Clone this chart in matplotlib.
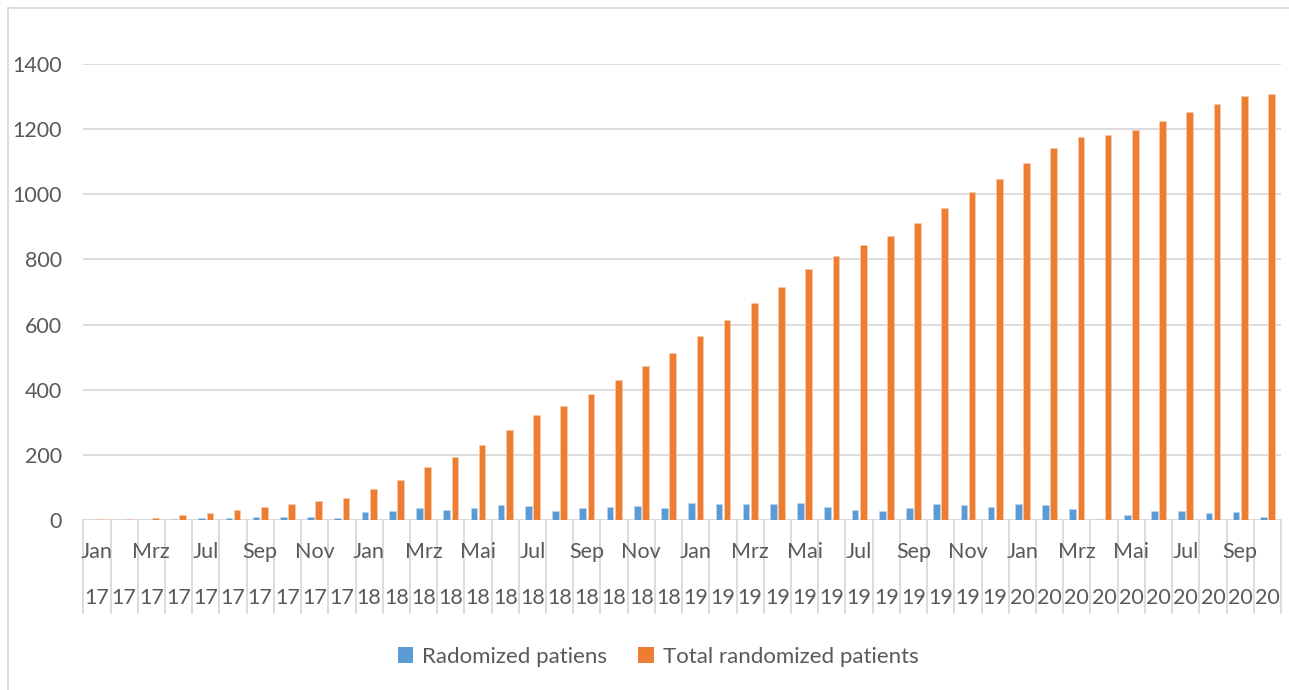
import matplotlib
matplotlib.use("Agg")
import matplotlib.pyplot as plt
from matplotlib.lines import Line2D
from matplotlib.patches import Patch
import numpy as np

months = ["Jan", "Feb", "Mrz", "Jun", "Jul", "Aug", "Sep", "Okt", "Nov", "Dez",
          "Jan", "Feb", "Mrz", "Apr", "Mai", "Jun", "Jul", "Aug", "Sep", "Okt", "Nov", "Dez",
          "Jan", "Feb", "Mrz", "Apr", "Mai", "Jun", "Jul", "Aug", "Sep", "Okt", "Nov", "Dez",
          "Jan", "Feb", "Mrz", "Apr", "Mai", "Jun", "Jul", "Aug", "Sep", "Okt"]
years = ["17"] * 10 + ["18"] * 12 + ["19"] * 12 + ["20"] * 10

randomized = [1, 1, 0, 4, 5, 7, 8, 8, 9, 5,
              25, 29, 37, 30, 38, 46, 44, 28, 37, 41, 43, 36,
              52, 48, 48, 49, 53, 40, 31, 28, 36, 48, 46, 39,
              48, 45, 34, 4, 14, 27, 29, 22, 25, 8]
total = [2, 4, 7, 14, 22, 31, 40, 49, 58, 67,
         94, 123, 162, 192, 230, 277, 322, 350, 388, 430, 474, 512,
         566, 614, 665, 716, 771, 812, 845, 872, 911, 959, 1007, 1047,
         1096, 1143, 1177, 1182, 1197, 1225, 1253, 1277, 1302, 1309]

series_names = ["Radomized patiens", "Total randomized patients"]
blue = "#5B9BD5"
orange = "#ED7D31"
text_col = "#595959"
grid_col = "#D9D9D9"
FONT = "Lato"
FS = 15.5

W, H = 1289, 690
fig = plt.figure(figsize=(W / 100, H / 100), dpi=100)

left_px, right_px, top_px, bot_px = 83.3, 1281, 64, 520
ax = fig.add_axes([left_px / W, 1 - bot_px / H, (right_px - left_px) / W, (bot_px - top_px) / H])

n = len(months)
x = np.arange(n)
bw = 0.245
ax.bar(x - 0.15, randomized, width=bw, color=blue, edgecolor="#BDD7EE", linewidth=0.5, zorder=3)
ax.bar(x + 0.15, total, width=bw, color=orange, edgecolor="#F8CBAD", linewidth=0.5, zorder=3)

ax.set_xlim(-0.5, n - 0.5)
ax.set_ylim(0, 1400)
ax.set_yticks(range(0, 1401, 200))
ax.yaxis.grid(True, color=grid_col, linewidth=1.3, zorder=0)
ax.set_axisbelow(True)
for s in ax.spines.values():
    s.set_visible(False)
ax.tick_params(axis="y", length=0, pad=15.5, labelsize=FS, labelcolor=text_col)
for lab in ax.get_yticklabels():
    lab.set_fontfamily(FONT)
ax.set_xticks([])

# category axis line
ax.axhline(0, color=grid_col, linewidth=1.3, zorder=2)

# multi-level category labels
trans = ax.get_xaxis_transform()
sep_len = (613 - 520) / (bot_px - top_px)
for i in range(n + 1):
    ax.add_line(Line2D([i - 0.5, i - 0.5], [0, -sep_len], transform=trans,
                       color=grid_col, linewidth=1.3, clip_on=False, zorder=1))
month_y = -(552 - 520) / (bot_px - top_px)
year_y = -(598 - 520) / (bot_px - top_px)
for i in range(n):
    if i % 2 == 0:
        ax.text(i, month_y, months[i], transform=trans, ha="center", va="center",
                fontsize=FS, color=text_col, fontfamily=FONT, zorder=4)
    ax.text(i, year_y, years[i], transform=trans, ha="center", va="center",
            fontsize=FS, color=text_col, fontfamily=FONT, zorder=4)

# outer chart frame
fig.add_artist(Line2D([8 / W, 8 / W], [0, 1 - 8 / H], transform=fig.transFigure, color=grid_col, linewidth=1.3))
fig.add_artist(Line2D([8 / W, 1], [1 - 8 / H, 1 - 8 / H], transform=fig.transFigure, color=grid_col, linewidth=1.3))

handles = [Patch(facecolor=blue, edgecolor="none"), Patch(facecolor=orange, edgecolor="none")]
fig.legend(handles, series_names, loc="center", bbox_to_anchor=(658 / W, 1 - 657 / H), ncol=2,
           frameon=False, handlelength=0.7, handleheight=0.7, handletextpad=0.4, columnspacing=1.4,
           prop={"family": FONT, "size": 16}, labelcolor=text_col)

fig.savefig("out.png", dpi=100)
